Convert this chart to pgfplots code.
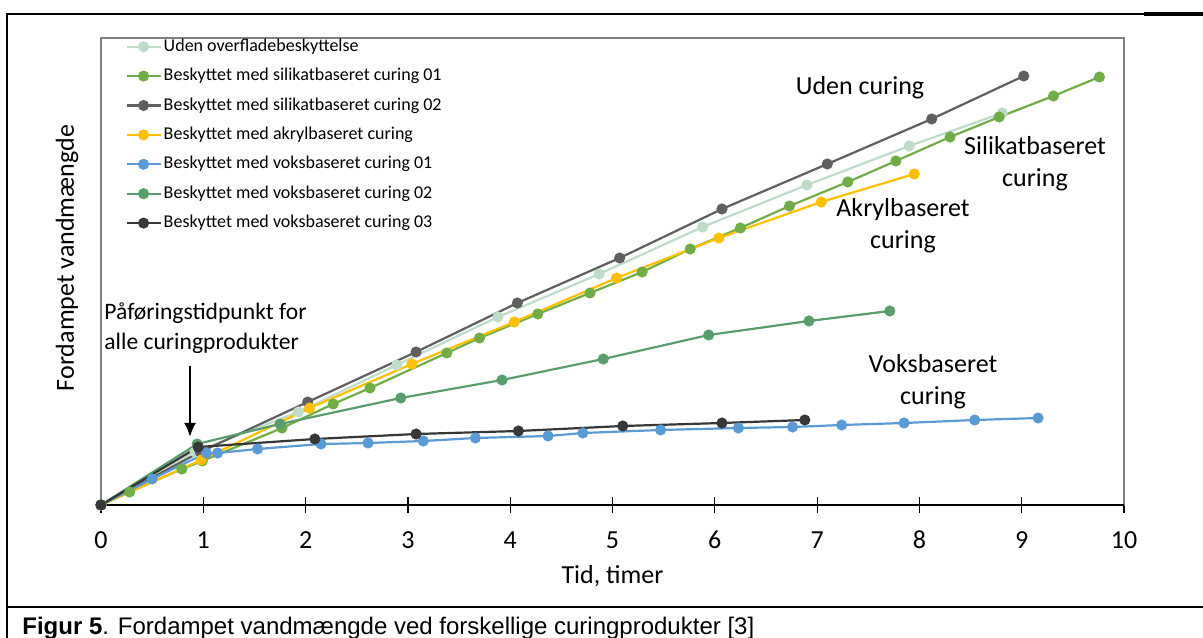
\documentclass[border=0pt]{standalone}
\usepackage{fontspec}
\setmainfont{Carlito}[Numbers=Lining]
\newfontfamily\arial{Liberation Sans}
\usepackage{pgfplots}
\pgfplotsset{compat=1.18}
\usetikzlibrary{arrows.meta}
\definecolor{cUden}{RGB}{190,220,200}
\definecolor{cSil1}{RGB}{112,173,71}
\definecolor{cSil2}{RGB}{95,95,95}
\definecolor{cAkr}{RGB}{255,192,0}
\definecolor{cVok1}{RGB}{91,155,213}
\definecolor{cVok2}{RGB}{88,158,108}
\definecolor{cVok3}{RGB}{55,55,55}
\begin{document}
\begin{tikzpicture}
\begin{scope}[x=0.5pt,y=-0.5pt,shift={(0pt,318.5pt)}]
\useasboundingbox (0,0) rectangle (1203,637);
\draw[line width=1pt] (7,13) -- (7,640);
\draw[line width=1pt] (7,14) -- (1144,14);
\draw[line width=1.6pt] (1144,14) -- (1203,14);
\draw[line width=1.2pt] (7,607) -- (1203,607);
\node[anchor=base west,font=\arial\fontsize{12}{14}\selectfont,inner sep=0pt] at (22,634) {{\bfseries Figur 5}. Fordampet vandmængde ved forskellige curingprodukter [3]};
\node[rotate=90,font=\fontsize{13}{15}\selectfont] at (67,258) {Fordampet vandmængde};
\node[font=\fontsize{13}{15}\selectfont] at (612.5,576) {Tid, timer};
\node[font=\fontsize{13}{16}\selectfont,align=center] at (860,88) {Uden curing};
\node[font=\fontsize{13}{16}\selectfont,align=center] at (1035,164) {Silikatbaseret\\curing};
\node[font=\fontsize{13}{16}\selectfont,align=center] at (903,226) {Akrylbaseret\\curing};
\node[font=\fontsize{13}{16}\selectfont,align=center] at (933,382) {Voksbaseret\\curing};
\node[font=\fontsize{11.8}{15}\selectfont,align=left,anchor=west,inner sep=0pt] at (104,328) {Påføringstidpunkt for\\alle curingprodukter};
\draw[line width=1.3pt,-{Latex[length=7pt,width=6pt]}] (190,366) -- (190,437);
\end{scope}
\begin{axis}[
  at={(50.5pt,66pt)}, anchor=south west,
  scale only axis, width=511.5pt, height=233.5pt,
  xmin=0, xmax=10, ymin=0, ymax=467,
  clip=false,
  axis line style={draw=gray, line width=0.8pt},
  xtick={0,1,...,10}, ytick=\empty,
  xtick pos=left,
  tick align=center, major tick length=8pt,
  x tick style={black, line width=0.6pt},
  xticklabel style={font=\fontsize{13}{15}\selectfont, text height=10pt, text depth=0pt, yshift=-4pt},
  /pgf/number format/assume math mode=true,
  every axis plot/.append style={line width=1.1pt, mark=*, mark size=2.2pt, mark options={solid}},
  legend style={draw=none, fill=none, at={(0,1)}, anchor=north west, xshift=12pt, yshift=1pt,
    font=\fontsize{9}{10}\selectfont, row sep=4.4pt, inner sep=0pt,
    nodes={inner sep=1pt, text height=6.5pt, text depth=1.8pt}},
  legend cell align=left,
]
\addplot[color=cUden] coordinates {(0,0) (0.92,53) (1.93,93) (2.89,140) (3.88,188) (4.87,231) (5.88,278) (6.90,320) (7.90,359) (8.81,392)};
\addlegendentry{Uden overfladebeskyttelse}
\addplot[color=cSil1] coordinates {(0,0) (0.28,13) (0.79,36) (0.99,44) (1.77,77) (2.27,101) (2.63,117) (3.38,152) (3.70,167) (4.27,191) (4.78,212) (5.29,233) (5.76,256) (6.25,277) (6.73,299) (7.30,323) (7.77,344) (8.30,368) (8.78,388) (9.31,409) (9.76,428)};
\addlegendentry{Beskyttet med silikatbaseret curing 01}
\addplot[color=cSil2] coordinates {(0,0) (0.97,53) (2.02,103) (3.08,153) (4.07,202) (5.07,247) (6.07,296) (7.10,341) (8.12,386) (9.02,429)};
\addlegendentry{Beskyttet med silikatbaseret curing 02}
\addplot[color=cAkr] coordinates {(0,0) (0.98,45) (2.04,97) (3.04,141) (4.04,183) (5.04,227) (6.04,267) (7.04,303) (7.95,331)};
\addlegendentry{Beskyttet med akrylbaseret curing}
\addplot[color=cVok1] coordinates {(0,0) (0.50,26) (1.03,52) (1.14,52) (1.53,56) (2.15,61) (2.61,62) (3.15,64) (3.66,67) (4.37,69) (4.71,72) (5.47,75) (6.23,77) (6.76,78) (7.24,80) (7.85,82) (8.54,85) (9.16,87)};
\addlegendentry{Beskyttet med voksbaseret curing 01}
\addplot[color=cVok2] coordinates {(0,0) (0.94,61) (1.75,81) (2.93,107) (3.92,125) (4.91,146) (5.94,170) (6.92,184) (7.71,194)};
\addlegendentry{Beskyttet med voksbaseret curing 02}
\addplot[color=cVok3] coordinates {(0,0) (0.95,58) (2.09,66) (3.08,71) (4.08,74) (5.10,79) (6.07,82) (6.88,85)};
\addlegendentry{Beskyttet med voksbaseret curing 03}
\draw[black, line width=1.2pt] (axis cs:0,0) -- (axis cs:10,0);
\end{axis}
\end{tikzpicture}
\end{document}
